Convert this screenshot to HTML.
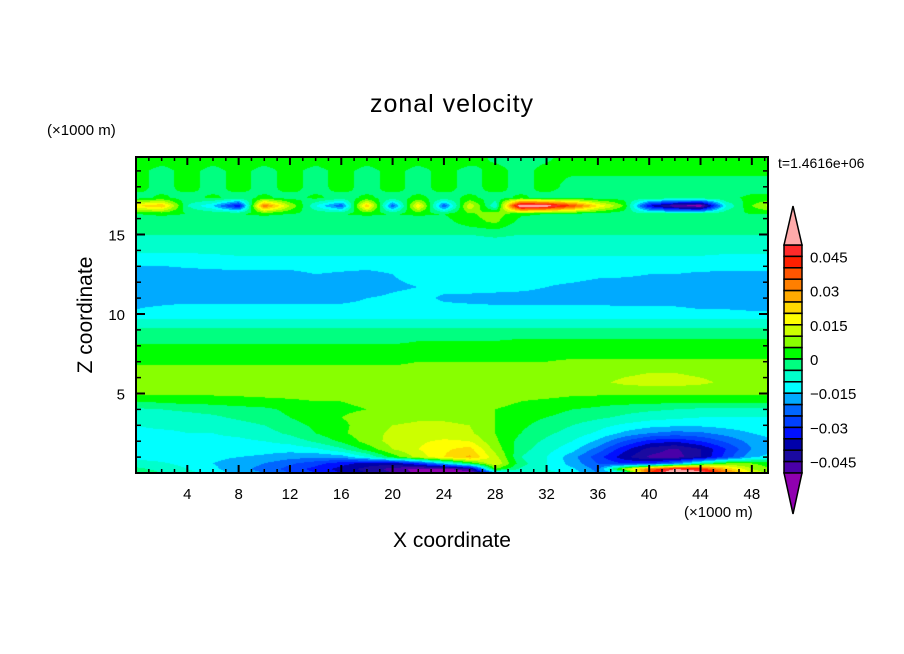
<!DOCTYPE html>
<html><head><meta charset="utf-8"><style>
html,body{margin:0;padding:0;background:#fff;}
#wrap{position:relative;width:904px;height:654px;overflow:hidden;font-family:"Liberation Sans",sans-serif;}
canvas{position:absolute;left:136px;top:157px;}
svg{position:absolute;left:0;top:0;}
</style></head><body>
<div id="wrap">
<canvas id="field" width="632" height="316"></canvas>
<svg id="ov" width="904" height="654"></svg>
</div>
<script>
const xCols = [0,2,4,6,8,10,12,14,16,18,20,22,24,26,28,30,32,34,36,38,40,42,44,46,48,50];
const zRows = [0,0.25,0.6,1.0,1.5,2.0,2.5,3.0,3.5,4.0,4.5,5.0,5.7,6.3,7.0,7.7,8.3,9.0,9.7,10.3,11,11.7,12.5,13.3,14.0,15.0,15.8,16.3,16.8,17.3,18,19,20];
const values = [
[-3,-5,-8,-12,-17,-20,-25,-30,-35,-40,-45,-52,-55,-55,-20,-10,-8,-12,-20,-15,40,60,55,35,15,5],
[-4,-6,-10,-14,-18,-22,-27,-32,-37,-42,-47,-52,-52,-45,5,-6,-10,-14,-22,10,35,50,45,25,10,3],
[-7,-9,-12,-15,-17,-20,-24,-28,-33,-37,-38,-30,-15,0,15,-3,-10,-17,-25,-30,-30,-20,-5,5,5,2],
[-12,-13,-14,-14,-15,-16,-18,-19,-18,-10,2,12,20,26,12,-5,-10,-18,-28,-38,-46,-48,-40,-28,-16,-12],
[-12,-12,-12,-12,-12,-13,-13,-11,-6,2,10,15,19,22,8,-3,-8,-13,-22,-33,-42,-46,-40,-30,-20,-15],
[-12,-12,-12,-11,-11,-10,-8,-4,1,7,12,14,16,15,6,-2,-6,-10,-16,-25,-32,-34,-30,-24,-18,-15],
[-11,-11,-10,-10,-9,-7,-4,0,4,8,11,12,12,11,5,0,-4,-7,-11,-16,-20,-22,-21,-18,-15,-13],
[-10,-9,-9,-8,-7,-5,-2,1,4,7,10,11,11,10,5,1,-2,-5,-8,-11,-13,-14,-14,-13,-12,-11],
[-9,-8,-7,-6,-4,-2,0,3,5,7,8,9,9,8,5,2,0,-2,-4,-6,-8,-9,-10,-10,-10,-10],
[-6,-5,-4,-3,-2,-1,1,2,4,5,6,7,7,7,5,4,2,0,-1,-3,-4,-5,-6,-6,-6,-6],
[0,1,2,2,3,3,4,5,5,6,6,7,7,7,6,5,4,3,2,2,2,1,1,1,1,1],
[6,6,6,6,6,7,7,7,7,7,7,7,7,7,7,7,7,6,6,6,6,6,6,6,6,6],
[7,7,7,7,7,7,7,7,7,7,7,7,7,7,7,7,7,7,9,11,12,12,11,9,7,7],
[7,7,7,7,7,7,7,7,7,7,7,7,7,7,7,7,7,7,8,9,10,10,9,8,7,7],
[4,4,4,4,4,4,4,4,4,4,4,5,5,5,5,5,5,6,6,6,6,6,6,6,6,6],
[2,2,2,2,2,2,2,2,2,2,2,2,2,2,2,2,2,2,2,2,2,2,2,2,2,2],
[-1,-1,-1,-1,-1,-1,-1,-1,-1,-1,-1,0,0,0,0,1,1,1,1,1,1,1,1,1,1,1],
[-4,-4,-4,-4,-4,-4,-4,-4,-4,-4,-4,-4,-4,-4,-4,-4,-4,-4,-4,-4,-4,-4,-4,-4,-4,-4],
[-10,-10,-10,-10,-10,-10,-10,-10,-10,-10,-10,-10,-10,-10,-10,-10,-10,-10,-10,-10,-10,-10,-10,-10,-10,-10],
[-15,-14,-13,-13,-13,-13,-13,-13,-13,-13,-13,-13,-13,-13,-13,-13,-13,-13,-13,-14,-14,-14,-15,-15,-16,-16],
[-17,-17,-17,-17,-17,-17,-17,-17,-17,-15,-14,-13,-16,-17,-18,-18,-18,-18,-18,-18,-18,-18,-18,-18,-18,-18],
[-18,-18,-18,-18,-18,-18,-18,-18,-18,-18,-16,-15,-13,-12,-12,-13,-15,-16,-17,-18,-18,-18,-18,-18,-18,-18],
[-17,-17,-17,-17,-17,-17,-17,-15,-16,-17,-15,-13,-12,-12,-12,-12,-13,-13,-14,-14,-15,-15,-16,-16,-16,-16],
[-14,-14,-13,-12,-11,-11,-11,-11,-11,-11,-11,-11,-11,-11,-11,-11,-11,-11,-11,-11,-11,-11,-11,-12,-12,-12],
[-9,-9,-9,-9,-9,-9,-9,-9,-9,-9,-9,-9,-9,-9,-9,-9,-9,-9,-9,-9,-9,-9,-9,-9,-9,-9],
[-5,-5,-5,-5,-5,-5,-5,-5,-5,-5,-5,-5,-5,-5,-4,-5,-5,-5,-5,-5,-5,-5,-5,-5,-5,-5],
[-3,-3,-3,-3,-3,-3,-3,-3,-3,-3,-3,-3,-2,3,6,-2,-3,-3,-3,-3,-3,-3,-3,-3,-3,-3],
[0,1,0,-1,0,1,0,-1,0,1,0,1,0,4,8,1,0,-1,-2,-3,-3,-3,-2,-1,0,0],
[20,25,-5,-15,-35,35,10,-10,-25,25,-25,20,-25,15,-10,60,55,40,20,5,-35,-50,-55,-10,5,15],
[-2,1,-2,1,-2,1,-2,1,-2,1,-2,1,-2,1,-2,1,-2,-1,-2,-2,-2,-2,-2,-1,1,1],
[2,-2,2,-2,2,-2,2,-2,2,-2,2,-2,2,-2,2,-2,2,-2,-2,-2,-2,-2,-2,-2,-2,-2],
[1,-1,1,-1,1,-1,1,-1,1,-1,1,-1,1,-1,1,-1,1,1,1,1,1,1,1,1,1,1],
[2,2,2,2,2,2,2,2,2,2,2,2,2,2,-1,-1,-1,2,2,2,2,2,2,2,2,2]
];
const levelColors = ['#ff2a2a','#ff2000','#ff5500','#ff7f00','#ffaa00','#ffd800','#ffff00','#ccff00','#88ff00','#00ff00','#00ff80','#00ffcc','#00ffff','#00aaff','#0066ff','#0040ff','#0010ff','#0000aa','#1a0aa0','#4a00a8'];
const overColor = '#ffaaaa', underColor = '#9000b0';
const cbLabels = ['0.045','0.03','0.015','0','\u22120.015','\u22120.03','\u22120.045'];
const cbLabelValues = [45,30,15,0,-15,-30,-45];
const xTicks = [4,8,12,16,20,24,28,32,36,40,44,48];
const zTicks = [5,10,15];

const PX0=136, PY0=157, PW=632, PH=316;
const XMAX=PW/12.83, ZMAX=PH/15.9;
const sx = x => PX0 + x/XMAX*PW;
const sz = z => PY0 + PH - z/ZMAX*PH;
function colorFor(v){
  if (v>=50) return overColor;
  if (v<-50) return underColor;
  let i=Math.floor((50-v)/5); if(i<0)i=0; if(i>19)i=19;
  return levelColors[i];
}
function hex(c){return [parseInt(c.substr(1,2),16),parseInt(c.substr(3,2),16),parseInt(c.substr(5,2),16)];}
const cv=document.getElementById('field'), ctx=cv.getContext('2d');
const img=ctx.createImageData(PW,PH);
for(let py=0;py<PH;py++){
  const z=(PH-py-0.5)/PH*ZMAX;
  let j=0; while(j<zRows.length-2 && zRows[j+1]<z) j++;
  let tz=(z-zRows[j])/(zRows[j+1]-zRows[j]); tz=Math.max(0,Math.min(1,tz));
  for(let px=0;px<PW;px++){
    const x=(px+0.5)/PW*XMAX;
    let i=0; while(i<xCols.length-2 && xCols[i+1]<x) i++;
    let tx=(x-xCols[i])/(xCols[i+1]-xCols[i]); tx=Math.max(0,Math.min(1,tx));
    const v=(values[j][i]*(1-tx)+values[j][i+1]*tx)*(1-tz)+(values[j+1][i]*(1-tx)+values[j+1][i+1]*tx)*tz;
    const c=hex(colorFor(v)); const k=(py*PW+px)*4;
    img.data[k]=c[0];img.data[k+1]=c[1];img.data[k+2]=c[2];img.data[k+3]=255;
  }
}
ctx.putImageData(img,0,0);

const NS='http://www.w3.org/2000/svg', svg=document.getElementById('ov');
function el(tag,attrs,parent){const e=document.createElementNS(NS,tag);for(const k in attrs)e.setAttribute(k,attrs[k]);(parent||svg).appendChild(e);return e;}
function txt(s,x,y,size,anchor){const t=el('text',{x:x,y:y,'font-size':size,'text-anchor':anchor||'start','font-family':'Liberation Sans, sans-serif',fill:'#000'});t.textContent=s;return t;}

const frame=el('rect',{x:PX0,y:PY0,width:PW,height:PH,fill:'none',stroke:'#000','stroke-width':2});


for(let x=1;x<XMAX;x++){
  const major=x%4===0, len=major?8:4, X=sx(x);
  const t1=el('line',{x1:X,y1:PY0+PH,x2:X,y2:PY0+PH-len,stroke:'#000','stroke-width':major?2:1.5});
  
  
  const t2=el('line',{x1:X,y1:PY0,x2:X,y2:PY0+len,stroke:'#000','stroke-width':major?2:1.5});
  
  
}
xTicks.forEach(v=>{const t=txt(String(v),sx(v),499,15,'middle');
  
  });
for(let z=1;z<ZMAX;z++){
  const major=z%5===0, len=major?9:5, Y=sz(z);
  const t1=el('line',{x1:PX0,y1:Y,x2:PX0+len,y2:Y,stroke:'#000','stroke-width':major?2:1.5});
  
  
  const t2=el('line',{x1:PX0+PW,y1:Y,x2:PX0+PW-len,y2:Y,stroke:'#000','stroke-width':major?2:1.5});
  
  
}
zTicks.forEach(v=>{const t=txt(String(v),125,sz(v)+6,15,'end');
  
  });

let t=txt('zonal velocity',452,112,25,'middle'); t.setAttribute('letter-spacing','1');


t=txt('(\u00d71000 m)',47,135,15);


t=txt('(\u00d71000 m)',684,517,15);


t=txt('t=1.4616e+06',778,168,14);


t=txt('X coordinate',452,547,21,'middle');


t=txt('Z coordinate',0,0,21,'middle'); t.setAttribute('transform','translate(92,315) rotate(-90)');



const CBX=784, CBW=18, CBT=245, BH=11.4;
levelColors.forEach((c,i)=>{
  const r=el('rect',{x:CBX,y:CBT+i*BH,width:CBW,height:BH,fill:c,stroke:'#000','stroke-width':1.5});
  
  
});
let tri=el('polygon',{points:`${CBX},${CBT} ${CBX+CBW},${CBT} ${CBX+CBW/2},206`,fill:overColor,stroke:'#000','stroke-width':1.5});


tri=el('polygon',{points:`${CBX},${CBT+20*BH} ${CBX+CBW},${CBT+20*BH} ${CBX+CBW/2},514`,fill:underColor,stroke:'#000','stroke-width':1.5});


cbLabels.forEach((s,i)=>{
  const y=CBT+(50-cbLabelValues[i])/5*BH;
  const l=txt(s,810,y+6,15);
  
  
});
</script>
</body></html>
